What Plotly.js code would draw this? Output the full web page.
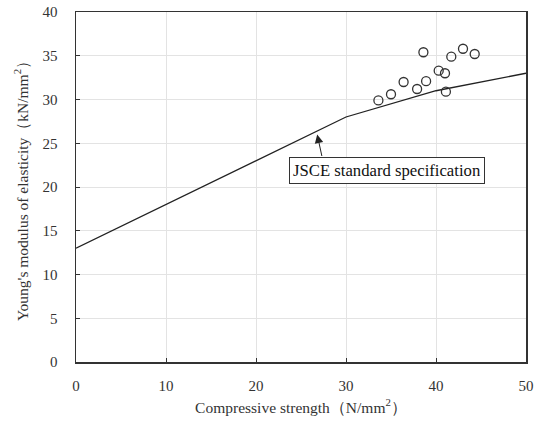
<!DOCTYPE html>
<html><head><meta charset="utf-8">
<script src="https://cdn.plot.ly/plotly-3.0.1.min.js"></script>
<style>body{margin:0;background:#fff}#chart{width:535px;height:423px}</style>
</head><body><div id="chart"></div>
<script>
// JSCE standard specification curve
const jsceStrength = [0, 18, 24, 30, 40, 50];
const jsceModulus = [13, 22, 25, 28, 31, 33];
// Measured data
const testStrength = [33.6, 35.0, 36.4, 37.9, 38.9, 38.6, 40.3, 41.0, 41.1, 41.7, 43.0, 44.3];
const testModulus = [29.9, 30.6, 32.0, 31.2, 32.1, 35.4, 33.3, 33.0, 30.9, 34.9, 35.8, 35.2];
const xTicks = [0, 10, 20, 30, 40, 50];
const yTicks = [0, 5, 10, 15, 20, 25, 30, 35, 40];
const labelText = 'JSCE standard specification';

const fontFam = '"Liberation Serif", "Times New Roman", serif';
const traces = [
  {x: jsceStrength, y: jsceModulus, mode: 'lines', type: 'scatter',
   line: {color: '#222', width: 1.3}, hoverinfo: 'skip'},
  {x: testStrength, y: testModulus, mode: 'markers', type: 'scatter',
   marker: {symbol: 'circle-open', size: 9, color: '#333', line: {width: 1.3, color: '#333'}}}
];
const axisCommon = {
  showline: true, linecolor: '#333', linewidth: 1.5, mirror: true,
  ticks: 'inside', ticklen: 4, tickcolor: '#333', tickwidth: 1,
  showgrid: true, gridcolor: '#e3e3e3', gridwidth: 1, zeroline: false,
  tickfont: {family: fontFam, size: 15, color: '#333'}
};
const layout = {
  width: 535, height: 423,
  margin: {l: 76, r: 9, t: 12, b: 61},
  paper_bgcolor: '#fff', plot_bgcolor: '#fff',
  showlegend: false,
  font: {family: fontFam, color: '#333'},
  xaxis: Object.assign({}, axisCommon, {
    range: [0, 50], tickvals: xTicks, ticklabelstandoff: 9,
    title: {text: 'Compressive strength（N/mm<sup>2</sup>）', font: {family: fontFam, size: 15.5, color: '#333'}, standoff: 9}
  }),
  yaxis: Object.assign({}, axisCommon, {
    range: [0, 40], tickvals: yTicks, ticklabelstandoff: 14,
    title: {text: 'Young\'s modulus of elasticity（kN/mm<sup>2</sup>）', font: {family: fontFam, size: 15.5, color: '#333'}, standoff: 10}
  }),
  annotations: [
    {x: 26.8, y: 26.0, xref: 'x', yref: 'y', text: '',
     showarrow: true, arrowhead: 2, arrowsize: 1.7, arrowwidth: 1, arrowcolor: '#222',
     ax: 5, ay: 23, axref: 'pixel', ayref: 'pixel'},
    {x: 34.5, y: 21.9, xref: 'x', yref: 'y', text: labelText, showarrow: false,
     font: {family: fontFam, size: 16.7, color: '#111'},
     bordercolor: '#333', borderwidth: 1, borderpad: 3, bgcolor: '#fff'}
  ]
};
Plotly.newPlot('chart', traces, layout, {displayModeBar: false, staticPlot: true});
</script></body></html>
